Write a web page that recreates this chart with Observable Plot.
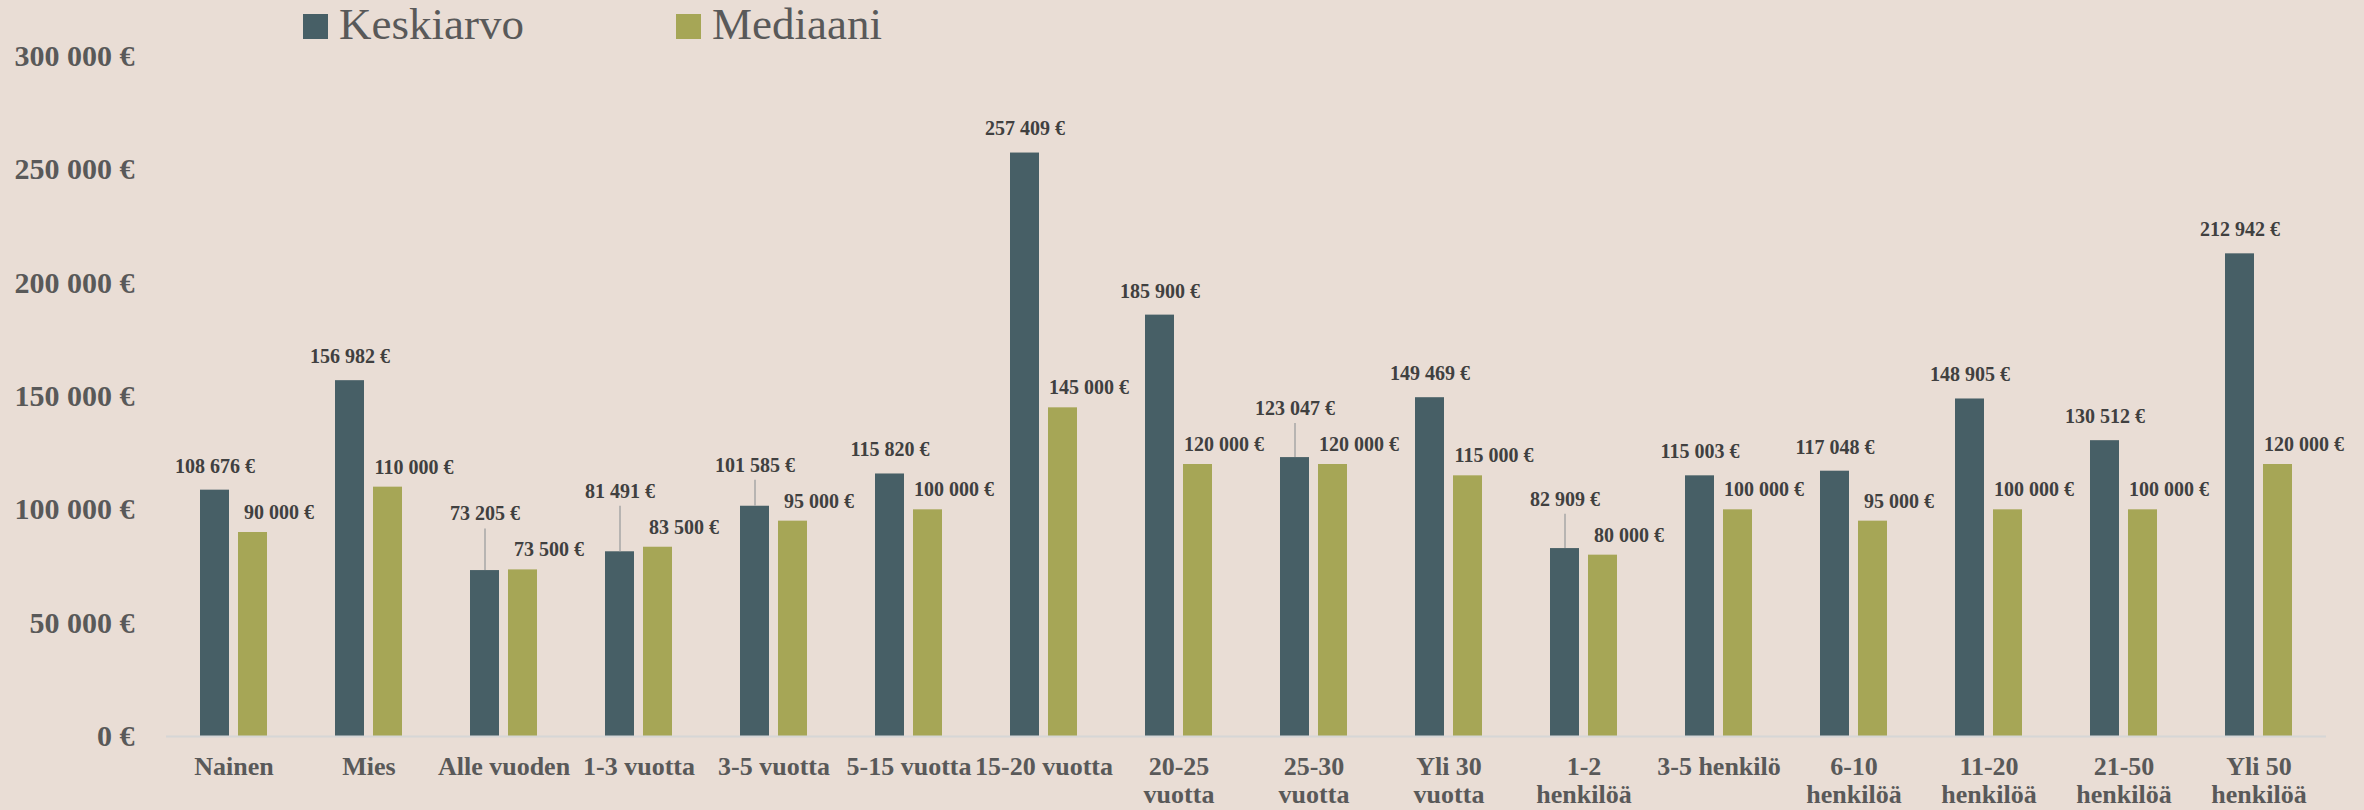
<!DOCTYPE html>
<html><head><meta charset="utf-8">
<script src="https://cdn.jsdelivr.net/npm/d3@7"></script>
<script src="https://cdn.jsdelivr.net/npm/@observablehq/plot@0.6"></script>
<style>
body{margin:0;background:#e9ddd5;font-family:"Liberation Serif",serif;}
#wrap{width:2364px;height:810px;position:relative;overflow:hidden;background:#e9ddd5;}
#legend{position:relative;height:40px;}
.sw{position:absolute;top:14px;width:25px;height:25px;}
.lt{position:absolute;top:2px;font-size:45px;line-height:45px;color:#595959;white-space:nowrap;}
</style></head><body>
<div id="wrap"><div id="legend"></div><div id="chart"></div></div>
<script>
const categories = ["Nainen","Mies","Alle vuoden","1-3 vuotta","3-5 vuotta","5-15 vuotta","15-20 vuotta","20-25 vuotta","25-30 vuotta","Yli 30 vuotta","1-2 henkilöä","3-5 henkilö","6-10 henkilöä","11-20 henkilöä","21-50 henkilöä","Yli 50 henkilöä"];
const tickLabels = ["Nainen","Mies","Alle vuoden","1-3 vuotta","3-5 vuotta","5-15 vuotta","15-20 vuotta","20-25\nvuotta","25-30\nvuotta","Yli 30\nvuotta","1-2\nhenkilöä","3-5 henkilö","6-10\nhenkilöä","11-20\nhenkilöä","21-50\nhenkilöä","Yli 50\nhenkilöä"];
const series = ["Keskiarvo","Mediaani"];
const keskiarvo = [108676,156982,73205,81491,101585,115820,257409,185900,123047,149469,82909,115003,117048,148905,130512,212942];
const mediaani = [90000,110000,73500,83500,95000,100000,145000,120000,120000,115000,80000,100000,95000,100000,100000,120000];
const yTicks = [0,50000,100000,150000,200000,250000,300000];
const colors = ["#475f66","#a6a656"];

const W = 2364, H = 770, mt = 16, mb = 74, ml = 163, mr = 35;
const fmt = d => d3.format(",")(d).replace(/,/g, " ") + " €";

// legend
const legend = document.getElementById("legend");
const legendLeft = [303, 676];
series.forEach((s, i) => {
  const sw = document.createElement("div");
  sw.className = "sw"; sw.style.left = legendLeft[i] + "px"; sw.style.background = colors[i];
  const t = document.createElement("div");
  t.className = "lt"; t.style.left = (legendLeft[i] + 36) + "px"; t.textContent = s;
  legend.appendChild(sw); legend.appendChild(t);
});

const rows = [];
categories.forEach((c, i) => {
  rows.push({cat: c, series: series[0], value: keskiarvo[i]});
  rows.push({cat: c, series: series[1], value: mediaani[i]});
});

const ys = Plot.scale({y: {domain: [0, 300000], range: [H - mb, mt]}});
const darkLabels = [], greenLabels = [], leaders = [];
categories.forEach((c, i) => {
  const gY = ys.apply(mediaani[i]) - 20;
  let dY = ys.apply(keskiarvo[i]) - 24;
  const raised = gY - dY < 19;
  if (raised) dY = gY - 36;
  greenLabels.push({cat: c, series: series[1], y: ys.invert(gY), text: fmt(mediaani[i])});
  darkLabels.push({cat: c, series: series[0], y: ys.invert(dY), text: fmt(keskiarvo[i])});
  if (raised) leaders.push({cat: c, series: series[0], y1: ys.invert(dY + 15), y2: keskiarvo[i]});
});

const chart = Plot.plot({
  width: W, height: H,
  marginTop: mt, marginBottom: mb, marginLeft: ml, marginRight: mr,
  style: {background: "transparent", color: "#595959", fontFamily: "'Liberation Serif', serif", overflow: "visible"},
  fx: {domain: categories, paddingInner: 0, paddingOuter: 0, label: null},
  x: {domain: series, paddingInner: 0.234, paddingOuter: 0.876, axis: null},
  y: {domain: [0, 300000]},
  color: {domain: series, range: colors},
  marks: [
    Plot.barY(rows, {fx: "cat", x: "series", y: "value", fill: "series"}),
    Plot.ruleY([0], {stroke: "#d6d6d6", strokeWidth: 2}),
    Plot.ruleX(leaders, {fx: "cat", x: "series", y1: "y1", y2: "y2", stroke: "#a6a6a6", strokeWidth: 1.5}),
    Plot.text(darkLabels, {fx: "cat", x: "series", y: "y", text: "text", fontSize: 20, fontWeight: "bold", fill: "#404040"}),
    Plot.text(greenLabels, {fx: "cat", x: "series", y: "y", text: "text", dx: 26, fontSize: 20, fontWeight: "bold", fill: "#404040"}),
    Plot.axisY({ticks: yTicks, tickFormat: fmt, tickSize: 0, tickPadding: 32, fontSize: 30, fontWeight: "bold", label: null}),
    Plot.axisFx({tickFormat: d => tickLabels[categories.indexOf(d)], tickSize: 0, tickPadding: 18, fontSize: 26, fontWeight: "bold", lineHeight: 1.1, label: null, anchor: "bottom"})
  ]
});
document.getElementById("chart").appendChild(chart);
</script>
</body></html>
